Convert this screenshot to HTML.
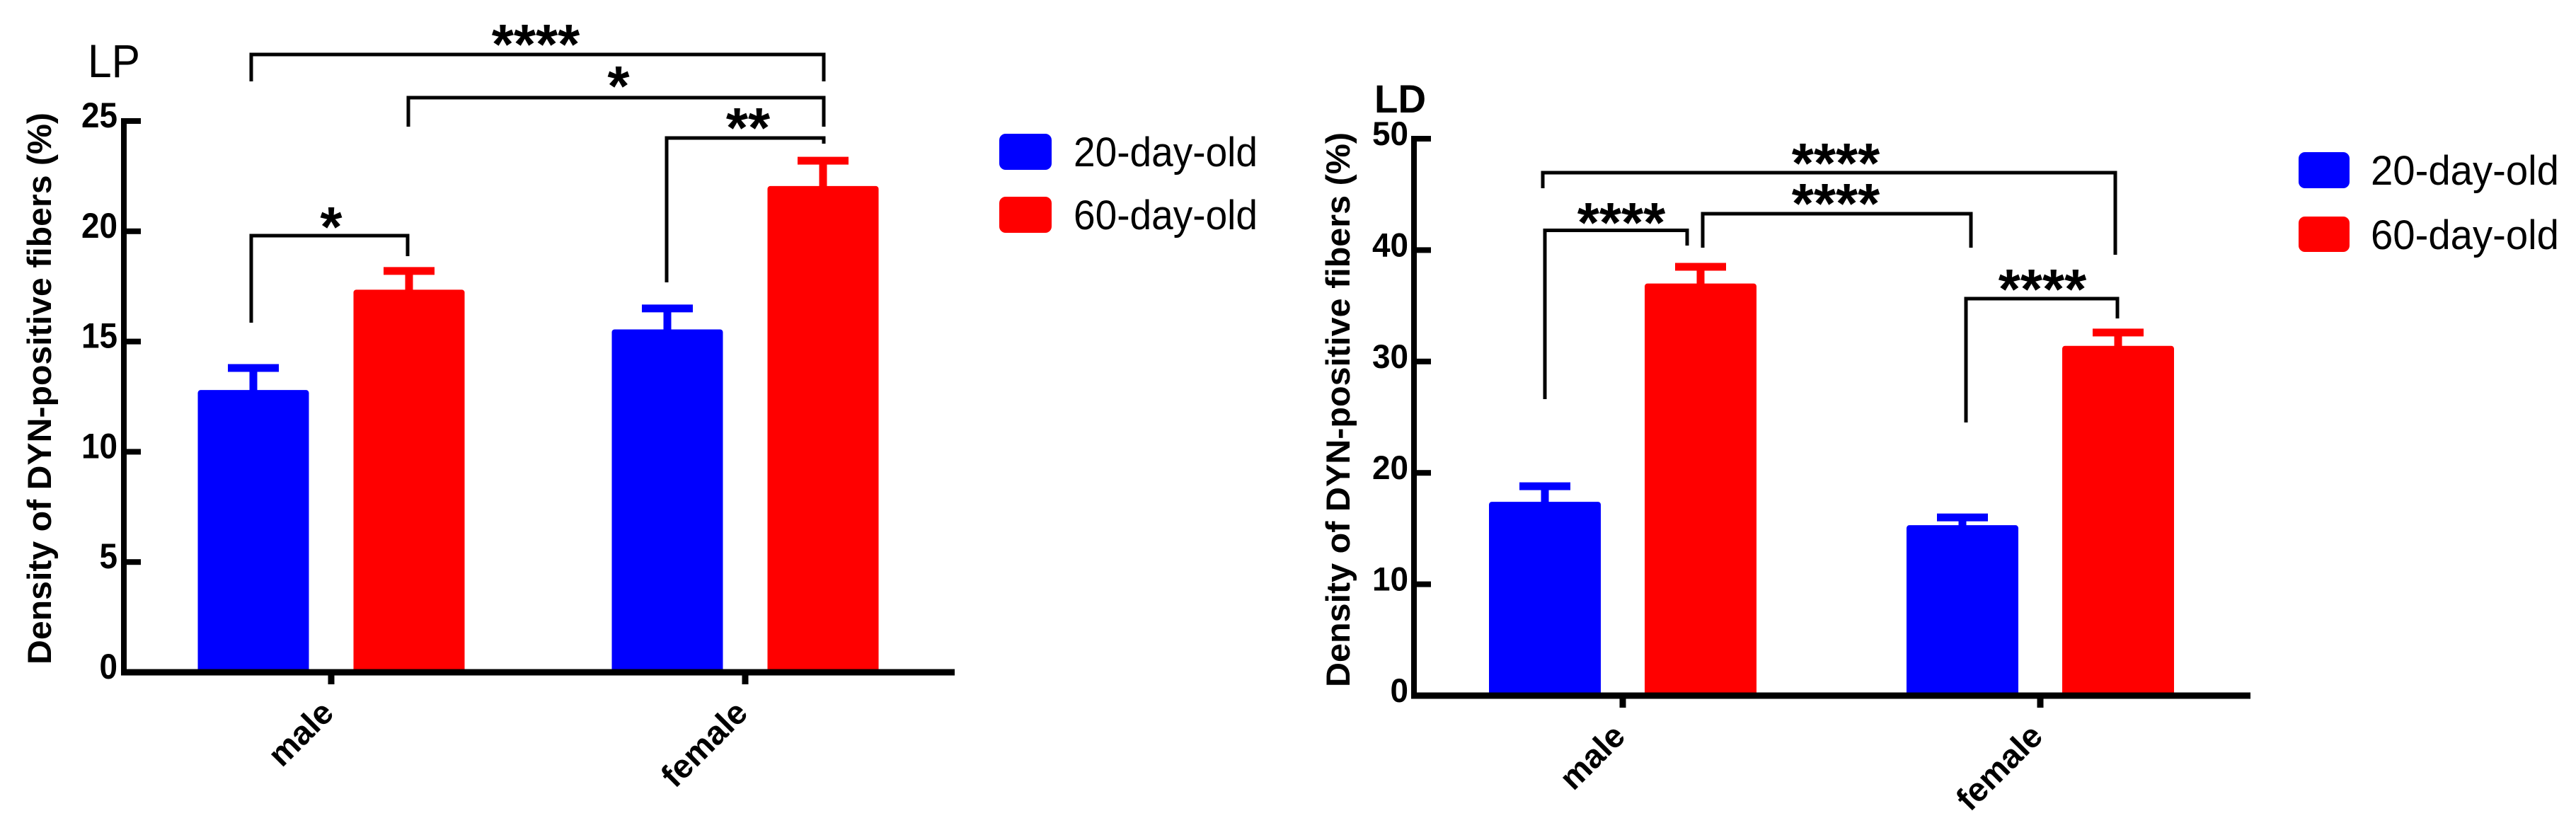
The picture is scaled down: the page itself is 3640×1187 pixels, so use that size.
<!DOCTYPE html>
<html>
<head>
<meta charset="utf-8">
<style>
html,body{margin:0;padding:0;background:#fff;}
svg{display:block;}
text{font-family:"Liberation Sans",sans-serif;fill:#000;}
.star{font-size:80px;font-weight:bold;text-anchor:middle;}
.br{fill:none;stroke:#000;stroke-width:5;}
</style>
</head>
<body>
<svg id="chart" xmlns="http://www.w3.org/2000/svg" width="3640" height="1187" viewBox="0 0 3640 1187">
  <g id="lp">
    <text x="124" y="109" font-size="66" textLength="74" lengthAdjust="spacingAndGlyphs">LP</text>
    <text transform="translate(72,939) rotate(-90)" font-size="47" font-weight="bold" textLength="780" lengthAdjust="spacingAndGlyphs">Density of DYN-positive fibers (%)</text>
    <path class="br" d="M355 115V77H1164V115"/>
    <path class="br" d="M577 179V138H1164V179"/>
    <path class="br" d="M942 399V195H1164V203"/>
    <path class="br" d="M355 456V333H576V362"/>
    <text class="star" x="757" y="90">****</text>
    <text class="star" x="874" y="149">*</text>
    <text class="star" x="1057" y="208">**</text>
    <text class="star" x="468" y="348">*</text>
    <rect x="1412" y="189" width="74" height="51" rx="9" fill="#0000ff"/>
    <rect x="1412" y="278" width="74" height="51" rx="9" fill="#ff0000"/>
    <text x="1517" y="235" font-size="58" textLength="260" lengthAdjust="spacingAndGlyphs">20-day-old</text>
    <text x="1517" y="324" font-size="58" textLength="260" lengthAdjust="spacingAndGlyphs">60-day-old</text>
  </g>
  <g id="ld">
    <text x="1942" y="159" font-size="56" font-weight="bold" textLength="73" lengthAdjust="spacingAndGlyphs">LD</text>
    <text transform="translate(1907,971) rotate(-90)" font-size="47" font-weight="bold" textLength="784" lengthAdjust="spacingAndGlyphs">Density of DYN-positive fibers (%)</text>
    <path class="br" d="M2180 266V244H2989V360"/>
    <path class="br" d="M2183 564V325.5H2384V347"/>
    <path class="br" d="M2406 350V302H2785V350"/>
    <path class="br" d="M2778 597V422H2992V450"/>
    <text class="star" x="2594" y="258">****</text>
    <text class="star" x="2594" y="315">****</text>
    <text class="star" x="2291" y="342">****</text>
    <text class="star" x="2886" y="436">****</text>
    <rect x="3248" y="215" width="72" height="51" rx="9" fill="#0000ff"/>
    <rect x="3248" y="306" width="72" height="50" rx="9" fill="#ff0000"/>
    <text x="3350" y="261" font-size="58" textLength="266" lengthAdjust="spacingAndGlyphs">20-day-old</text>
    <text x="3350" y="352" font-size="58" textLength="266" lengthAdjust="spacingAndGlyphs">60-day-old</text>
  </g>
</svg>
<script>
const categories = ['male', 'female'];
const lpTicks = [0, 5, 10, 15, 20, 25];
const lp20Means = [12.8, 15.55];
const lp20Errors = [13.8, 16.5];
const lp60Means = [17.35, 22.05];
const lp60Errors = [18.2, 23.2];
const ldTicks = [0, 10, 20, 30, 40, 50];
const ld20Means = [17.4, 15.3];
const ld20Errors = [18.8, 16.0];
const ld60Means = [37.0, 31.4];
const ld60Errors = [38.5, 32.6];

const NS = 'http://www.w3.org/2000/svg';

function node(parent, tag, attrs) {
  const el = document.createElementNS(NS, tag);
  for (const k in attrs) el.setAttribute(k, attrs[k]);
  parent.appendChild(el);
  return el;
}

function drawBar(g, prefix, cat, series, cx, halfW, mean, err, color, yScale) {
  const bar = node(g, 'rect', {x: cx - halfW, y: yScale(mean), width: halfW * 2, height: yScale(0) - yScale(mean), rx: 4, fill: color});
  
  
  const stem = node(g, 'rect', {x: cx - 5.5, y: yScale(err), width: 11, height: yScale(mean) - yScale(err) + 2, fill: color});
  
  
  const cap = node(g, 'rect', {x: cx - 36, y: yScale(err) - 5.5, width: 72, height: 11, fill: color});
  
  
}

function drawPanel(cfg) {
  const g = document.getElementById(cfg.id);
  const yScale = v => cfg.y1 - v / cfg.domainMax * (cfg.y1 - cfg.y0);
  const catX = i => cfg.catStart + i * cfg.catStep;

  categories.forEach((cat, i) => {
    drawBar(g, cfg.id, cat, '20-day-old', catX(i) - cfg.barOffset, cfg.barHalf, cfg.means20[i], cfg.errors20[i], '#0000ff', yScale);
    drawBar(g, cfg.id, cat, '60-day-old', catX(i) + cfg.barOffset, cfg.barHalf, cfg.means60[i], cfg.errors60[i], '#ff0000', yScale);
  });

  const yAxis = node(g, 'rect', {x: cfg.axisX - 4, y: yScale(cfg.domainMax) - 4, width: 8, height: yScale(0) - yScale(cfg.domainMax) + 8, fill: '#000'});
  
  
  const xAxis = node(g, 'rect', {x: cfg.axisX - 4, y: yScale(0) - 4.5, width: cfg.axisEnd - cfg.axisX + 4, height: 9, fill: '#000'});
  
  

  cfg.ticks.forEach(t => {
    const tick = node(g, 'rect', {x: cfg.axisX, y: yScale(t) - 4, width: 24, height: 8, fill: '#000'});
    
    
    const s = String(t);
    const label = node(g, 'text', {x: cfg.labelRight, y: yScale(t) + 9, 'font-size': cfg.tickFont, 'font-weight': 'bold', 'text-anchor': 'end', textLength: 25.5 * s.length, lengthAdjust: 'spacingAndGlyphs'});
    
    
    label.textContent = s;
  });

  categories.forEach((cat, i) => {
    const tick = node(g, 'rect', {x: catX(i) - 4.5, y: yScale(0), width: 9, height: 17, fill: '#000'});
    
    
    const label = node(g, 'text', {'font-size': 47, 'font-weight': 'bold', 'text-anchor': 'end', transform: 'translate(' + (catX(i) + 6) + ',' + (yScale(0) + 60) + ') rotate(-45)'});
    
    
    label.textContent = cat;
  });
}

drawPanel({id: 'lp', ticks: lpTicks, means20: lp20Means, errors20: lp20Errors, means60: lp60Means, errors60: lp60Errors,
  domainMax: 25, y0: 171, y1: 950, axisX: 175, axisEnd: 1349, labelRight: 166, tickFont: 50,
  catStart: 468, catStep: 585, barOffset: 110, barHalf: 78.5});
drawPanel({id: 'ld', ticks: ldTicks, means20: ld20Means, errors20: ld20Errors, means60: ld60Means, errors60: ld60Errors,
  domainMax: 50, y0: 196, y1: 983, axisX: 1998, axisEnd: 3180, labelRight: 1990, tickFont: 47,
  catStart: 2293, catStep: 590, barOffset: 110, barHalf: 79});
</script>
</body>
</html>
